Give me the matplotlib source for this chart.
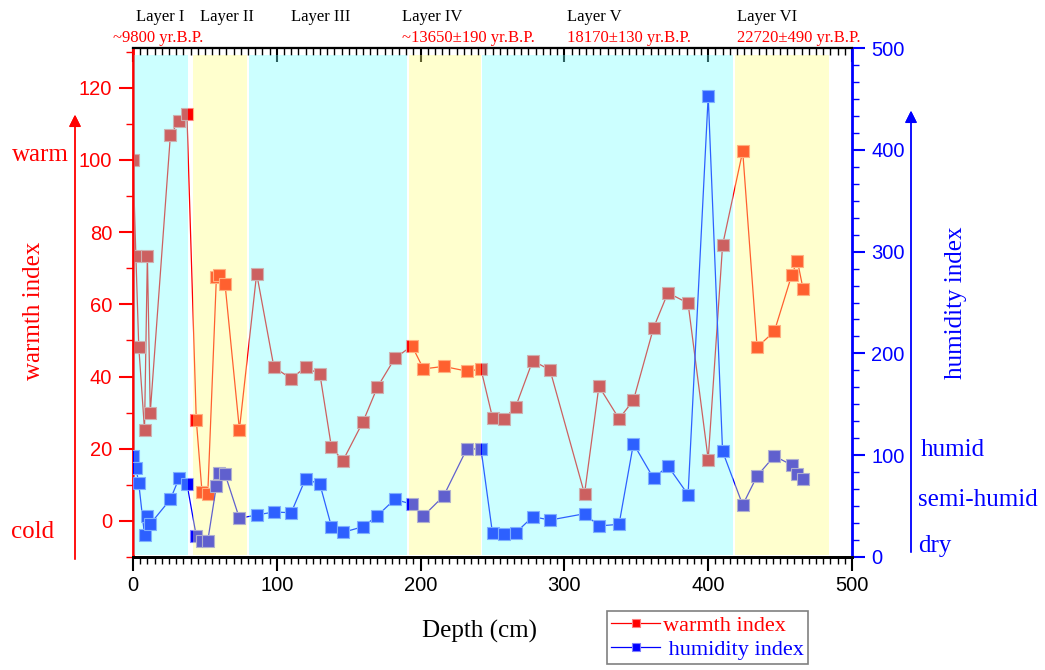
import matplotlib
matplotlib.use("Agg")
import matplotlib.pyplot as plt
from matplotlib.ticker import MultipleLocator, AutoMinorLocator

depth = [0, 2, 4, 8, 10, 12, 26, 32, 37.5, 44, 48, 52, 58, 60, 64, 74, 86,
         98, 110, 120, 130, 138, 146, 160, 170, 182, 194, 202, 216, 232, 242,
         250, 258, 266, 278, 290, 314, 324, 338, 348, 362, 372, 386, 400, 410,
         424, 434, 446, 458, 462, 466]

warmth = [100, 73.5, 48.3, 25.3, 73.5, 30, 106.8, 110.9, 112.6, 28, 8, 7.5,
          67.6, 68.2, 65.6, 25.3, 68.5, 42.6, 39.4, 42.6, 40.6, 20.4, 16.7,
          27.5, 37.1, 45, 48.5, 42.1, 42.8, 41.5, 42, 28.6, 28.3, 31.5, 44.4,
          41.8, 7.5, 37.3, 28.3, 33.4, 53.5, 63.2, 60.3, 17, 76.4, 102.4, 48.1,
          52.5, 68, 72.1, 64.2]

humidity = [99.5, 87.7, 72.4, 21.6, 40.6, 32.4, 56.7, 77.3, 72, 20.6, 16, 16,
            70, 82.2, 81.5, 38, 41.3, 44.2, 43.5, 76.9, 71.4, 29.8, 24.2, 29.8,
            40.6, 56.7, 51.8, 40.3, 59.9, 105.8, 106.4, 23.3, 22.3, 23.6, 39.6,
            36.3, 42.5, 30.5, 32.1, 111.3, 77.3, 89.4, 61.2, 453, 103.8, 51.1,
            79.6, 99.2, 90.4, 81.5, 76.6]

# shaded layers (start, end, colour)
bands = [(0.6, 38.5, '#79ffff'), (41.5, 79.3, '#ffff7e'), (80.7, 190.3, '#79ffff'),
         (191.7, 241.8, '#ffff7e'), (242.9, 417, '#79ffff'), (418.6, 484, '#ffff7e')]

layer_names = ['Layer I', 'Layer II', 'Layer III', 'Layer IV', 'Layer V', 'Layer VI']
layer_x = [136, 200, 291, 402, 567, 737]
date_names = ['~9800 yr.B.P.', '~13650\u00b1190 yr.B.P.', '18170\u00b1130 yr.B.P.', '22720\u00b1490 yr.B.P.']
date_x = [113, 402, 567, 737]

serif = 'Liberation Serif'
sans = 'Liberation Sans'
W, H = 1045, 670

fig = plt.figure(figsize=(10.45, 6.7), dpi=100)
ax = fig.add_axes([133 / W, 1 - 557 / H, (852 - 133) / W, (557 - 48) / H])
ax2 = ax.twinx()

l1, = ax.plot(depth, warmth, color='red', lw=0.9, marker='s', ms=8.5,
              mfc='red', mec='#ff8080', mew=0.8, label='warmth index')
l2, = ax2.plot(depth, humidity, color='blue', lw=0.9, marker='s', ms=8.5,
               mfc='blue', mec='#8080ff', mew=0.8, label='humidity index')

for a, b, c in bands:
    ax2.axvspan(a, b, ymin=0.004, ymax=0.986, color=c, alpha=0.38, lw=0, zorder=5)

ax.set_xlim(0, 500)
ax.set_ylim(-10, 131)
ax2.set_ylim(0, 500)

ax.xaxis.set_major_locator(MultipleLocator(100))
ax.xaxis.set_minor_locator(MultipleLocator(5))
ax.yaxis.set_major_locator(MultipleLocator(20))
ax.yaxis.set_minor_locator(MultipleLocator(10))
ax2.yaxis.set_major_locator(MultipleLocator(100))
ax2.yaxis.set_minor_locator(AutoMinorLocator(6))

ax.tick_params(axis='x', which='major', direction='out', length=10, width=1.5, pad=4)
ax.tick_params(axis='x', which='minor', direction='out', length=5, width=1)
ax.tick_params(axis='y', which='major', direction='out', length=10, width=1.5, color='red',
               labelcolor='red', pad=5)
ax.tick_params(axis='y', which='minor', direction='out', length=5, width=1, color='red')
ax2.tick_params(axis='y', which='major', direction='out', length=9, width=1.5, color='blue',
                labelcolor='blue', pad=5)
ax2.tick_params(axis='y', which='minor', direction='out', length=5, width=1, color='blue')

top = ax.secondary_xaxis('top')
top.xaxis.set_major_locator(MultipleLocator(100))
top.xaxis.set_minor_locator(MultipleLocator(5))
top.tick_params(which='major', direction='in', length=10, width=1.5, labeltop=False)
top.tick_params(which='minor', direction='in', length=5, width=1)

for lab in ax.get_xticklabels() + ax.get_yticklabels() + ax2.get_yticklabels():
    lab.set_fontfamily(sans)
    lab.set_fontsize(14.5)

ax.spines['left'].set_color('red')
ax.spines['left'].set_linewidth(2)
ax.spines['bottom'].set_linewidth(2)
ax.spines['top'].set_linewidth(1.5)
ax.spines['right'].set_visible(False)
ax2.spines['left'].set_visible(False)
ax2.spines['right'].set_color('blue')
ax2.spines['right'].set_linewidth(2)
ax2.spines['bottom'].set_linewidth(2)
ax2.spines['top'].set_linewidth(1.5)
top.spines['top'].set_linewidth(1.5)

# text around the plot, figure pixel positions
def ftext(x, y, s, **kw):
    fig.text(x / W, 1 - y / H, s, family=serif, **kw)

for name, x in zip(layer_names, layer_x):
    ftext(x, 17, name, fontsize=12, ha='left', va='center', color='black')
for name, x in zip(date_names, date_x):
    ftext(x, 38.5, name, fontsize=12, ha='left', va='center', color='red')

ftext(40, 155, 'warm', fontsize=18, ha='center', va='center', color='red')
ftext(33, 532, 'cold', fontsize=18, ha='center', va='center', color='red')
ftext(34, 311, 'warmth index', fontsize=18, ha='center', va='center', color='red', rotation=90)
ftext(956, 303, 'humidity index', fontsize=18, ha='center', va='center', color='blue', rotation=90)
ftext(921, 450, 'humid', fontsize=18, ha='left', va='center', color='blue')
ftext(918, 500, 'semi-humid', fontsize=18, ha='left', va='center', color='blue')
ftext(918, 546, 'dry', fontsize=18, ha='left', va='center', color='blue')
ftext(480, 631, 'Depth (cm)', fontsize=18, ha='center', va='center', color='black')

fig.add_artist(plt.annotate('', xy=(75 / W, 1 - 112 / H), xytext=(75 / W, 1 - 562 / H),
                            xycoords='figure fraction', textcoords='figure fraction',
                            arrowprops=dict(arrowstyle='-|>', color='red', lw=1,
                                            mutation_scale=18)))
fig.add_artist(plt.annotate('', xy=(911 / W, 1 - 108 / H), xytext=(911 / W, 1 - 555 / H),
                            xycoords='figure fraction', textcoords='figure fraction',
                            arrowprops=dict(arrowstyle='-|>', color='blue', lw=1,
                                            mutation_scale=18)))

leg = fig.legend([l1, l2], ['warmth index', ' humidity index'], loc='upper left',
                 bbox_to_anchor=(607 / W, 1 - 611 / H), prop={'family': serif, 'size': 16},
                 handlelength=2.2, handletextpad=0.1, borderpad=0.2, labelspacing=0.15,
                 numpoints=1, markerscale=0.75, fancybox=False, framealpha=1,
                 edgecolor='#808080', borderaxespad=0)
leg.get_frame().set_linewidth(1.2)
leg.get_texts()[0].set_color('red')
leg.get_texts()[1].set_color('blue')

fig.savefig('out.png', dpi=100)
